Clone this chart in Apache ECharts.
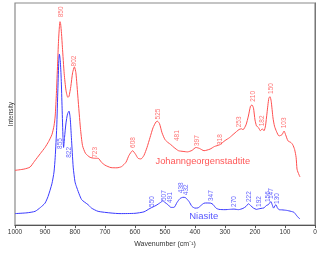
<!DOCTYPE html>
<html><head><meta charset="utf-8">
<script src="https://cdn.jsdelivr.net/npm/echarts@6/dist/echarts.min.js"></script>
<style>html,body{margin:0;padding:0;background:#fff}#c{width:320px;height:253px}</style>
</head><body><div id="c"></div>
<script>
// Intensities in arbitrary units (0 = baseline of plot)
var redW = [1000,970,950,935,915,900,888,877,870,866,862,858,855,852,850,848,845,842,836,830,824,820,814,808,802,797,790,782,775,765,750,735,723,712,700,680,660,645,630,620,608,598,590,580,570,560,550,540,530,525,518,510,500,490,481,470,455,440,425,410,397,385,370,350,335,318,300,285,270,253,245,240,230,222,215,210,205,200,195,188,182,176,170,165,160,154,150,146,140,135,128,120,110,103,98,90,80,74,68,63,60,57,53,50];
var redI = [173.3,172,170,164,156,150,144,137,128,118,95,65,42,27,22,24,34,48,75,92,99,98,88,74,68,74,100,130,148,156,160,161,161,165,168,170.5,170.7,169.5,165,158,153.3,157,161,161.7,158,150,140,130,124,123.3,126,135,142,145,147,150,153.3,154,154.5,153,150,151,153.3,151.7,149,147.3,143,140,136,131.7,131,132,127,118,108,106.7,110,122,128,130,133,131,133,128,115,100,98.3,103,120,128.3,134,138.3,137,133.3,137,143.3,145,147.3,152,160,172,175,178,180];
var blueW = [1000,960,933,915,900,890,877,870,866,861,857,854,852,849,846,843,840,838,835,830,825,820,816,812,806,800,795,778,756,745,723,680,650,600,570,550,530,515,507,500,491,480,470,460,450,440,432,420,410,400,390,380,370,360,347,340,330,320,300,285,270,255,240,230,222,215,205,195,188,180,170,162,156,150,147,143,138,133,130,126,120,110,95,80,70,62,55,50];
var blueI = [217.3,216.5,215,211,206.7,200,187,175,160,130,90,62,55,62,80,110,140,150,140,125,116,113,120,140,170,185,190,203,208.3,211.7,215,216.7,217.3,217,215.5,212,209,206,204.3,206,208,211,211,206,202,200.7,201,205,210,211.7,211.5,209,206.7,206.5,206.7,208,211.7,213,213.3,213,212.7,213.3,212,210,207.3,209,211.7,213,212.5,212,211.5,209,208.3,206,205,208,211.7,209,208.3,211,213.3,213.5,214,215,216,219,221.5,222.7];
var redLabelText = ['850','802','723','608','525','481','397','318','253','210','182','150','103'];
var redLabelW =    [847,802,731,607,522,460,394,317,254,206,176,147,102];
var redLabelY =    [12,62,155,145,116,138,143,142,124,98,123,90,125];
var blueLabelText = ['855','822','550','507','491','438','432','347','270','222','192','156','147','130'];
var blueLabelW =    [850,820,541,504,482,445,430,345,270,218,185,157,146,127];
var blueLabelY =    [146,155,205,199,201,191,193,199,205,200,205,200,197,202];
var xTicks = [0,100,200,300,400,500,600,700,800,900,1000];

var TOP = 229; // convert pixel-style readings into intensity
function pairs(w, v){ return w.map(function(x,i){ return [x, TOP - v[i]]; }); }
function labs(w, v, t){ return w.map(function(x,i){ return {value:[x, TOP - v[i]], name:t[i]}; }); }

var RED = '#ff4f4f', BLUE = '#3a3aff';
var FONT = 'Liberation Sans, Arial, sans-serif';
var chart = echarts.init(document.getElementById('c'), null, {renderer:'canvas'});
function labelSeries(data, color){
  return {type:'scatter', data:data, symbolSize:0, silent:true, z:5,
    label:{show:true, position:'inside', rotate:90, formatter:function(p){return p.name;},
      color:color, fontSize:6.5, fontFamily:FONT}};
}
chart.setOption({
  animation:false,
  grid:{left:13, right:5, top:3, bottom:24, show:true, borderColor:'#8a8a8a', borderWidth:1.2, backgroundColor:'transparent'},
  xAxis:{type:'value', min:0, max:1000, interval:100, inverse:true,
    name:'Wavenumber (cm\u207B\u00B9)', nameLocation:'middle', nameGap:13,
    nameTextStyle:{fontSize:7, color:'#333', fontFamily:FONT},
    axisLine:{lineStyle:{color:'#555', width:1}}, axisTick:{show:true, length:3, lineStyle:{color:'#555'}},
    axisLabel:{fontSize:6.5, color:'#333', margin:4, fontFamily:FONT,
      formatter:function(v){ return xTicks.indexOf(v) >= 0 ? String(v) : ''; }},
    splitLine:{show:false}},
  yAxis:{type:'value', min:0, max:226, name:'Intensity', nameLocation:'middle', nameGap:0,
    nameTextStyle:{fontSize:6.5, color:'#333', fontFamily:FONT},
    axisLine:{show:true, lineStyle:{color:'#777'}}, axisTick:{show:false}, axisLabel:{show:false}, splitLine:{show:false}},
  series:[
    {type:'line', data:pairs(redW, redI), symbol:'none', smooth:0.2, lineStyle:{color:RED, width:1}},
    {type:'line', data:pairs(blueW, blueI), symbol:'none', smooth:0.2, lineStyle:{color:BLUE, width:1}},
    labelSeries(labs(redLabelW, redLabelY, redLabelText), RED),
    labelSeries(labs(blueLabelW, blueLabelY, blueLabelText), BLUE),
    {type:'scatter', symbolSize:0, silent:true, z:6,
      data:[{value:[374, TOP-164], name:'Johanngeorgenstadtite'}],
      label:{show:true, position:'inside', formatter:'{b}', color:'#ff2a2a', fontSize:9.3, fontFamily:FONT}},
    {type:'scatter', symbolSize:0, silent:true, z:6,
      data:[{value:[371, TOP-220], name:'Niasite'}],
      label:{show:true, position:'inside', formatter:'{b}', color:'#2a2aff', fontSize:9.5, fontFamily:FONT}}
  ]
});
</script></body></html>
